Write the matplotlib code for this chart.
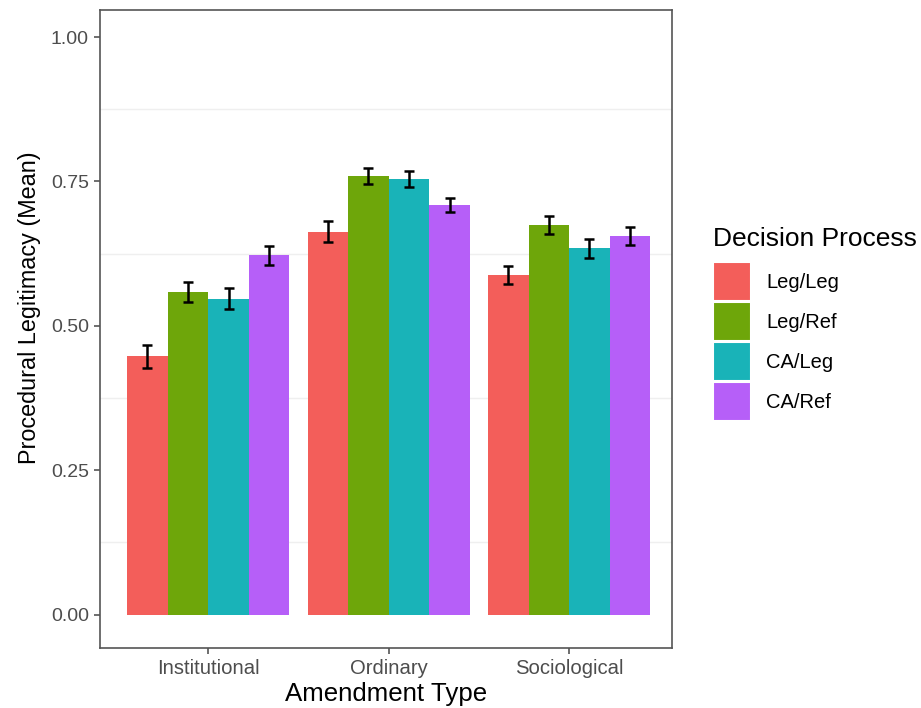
"""Procedural legitimacy by amendment type and decision process (grouped bars, ggplot-like)."""

import numpy as np
import matplotlib.pyplot as plt
from matplotlib.patches import Patch

plt.rcParams["font.family"] = ["Liberation Sans", "DejaVu Sans"]

amendment_types = ["Institutional", "Ordinary", "Sociological"]
processes = ["Leg/Leg", "Leg/Ref", "CA/Leg", "CA/Ref"]
colors = ["#F35E5A", "#6EA60A", "#19B3B8", "#B65FF8"]

# mean legitimacy, one list per decision process (Institutional, Ordinary, Sociological)
means = {
    "Leg/Leg": [0.447, 0.663, 0.588],
    "Leg/Ref": [0.559, 0.759, 0.675],
    "CA/Leg": [0.547, 0.755, 0.634],
    "CA/Ref": [0.622, 0.709, 0.656],
}
errors = {
    "Leg/Leg": [0.020, 0.018, 0.015],
    "Leg/Ref": [0.017, 0.014, 0.016],
    "CA/Leg": [0.018, 0.014, 0.016],
    "CA/Ref": [0.016, 0.012, 0.016],
}

fig = plt.figure(figsize=(9.21, 7.08), dpi=100)
ax = fig.add_axes([100 / 921, 60 / 708, 572 / 921, 638 / 708])

x = np.arange(1, len(amendment_types) + 1)
width = 0.9 / len(processes)

for i, (proc, col) in enumerate(zip(processes, colors)):
    pos = x - 0.45 + width * (i + 0.5)
    ax.bar(pos, means[proc], width=width, color=col, zorder=2)
    ax.errorbar(pos, means[proc], yerr=errors[proc], fmt="none", ecolor="black",
                elinewidth=1.8, capsize=3.8, capthick=1.8, zorder=3)

ax.set_xlim(0.4, 3.57)
ax.set_ylim(-0.058, 1.047)
ax.set_xticks(x)
ax.set_xticklabels(amendment_types)
ax.set_yticks([0, 0.25, 0.5, 0.75, 1.0])
ax.set_yticklabels(["0.00", "0.25", "0.50", "0.75", "1.00"])

# only the minor horizontal grid lines show in the original
for yv in [0.125, 0.375, 0.625, 0.875]:
    ax.axhline(yv, color="#EFEFEF", linewidth=1.0, zorder=0)

for sp in ax.spines.values():
    sp.set_color("#555555")
    sp.set_linewidth(1.2)
ax.tick_params(axis="both", colors="#555555", length=4, width=1.2,
               labelsize=14, labelcolor="#4D4D4D", pad=4)
ax.tick_params(axis="x", labelsize=14.6)

ax.set_xlabel("Amendment Type", fontsize=18.6, color="black", labelpad=3)
ax.set_ylabel("Procedural Legitimacy (Mean)", fontsize=16.8, color="black")
ax.yaxis.set_label_coords(-59 / 572, (648 - 308) / 638)

handles = [Patch(facecolor=c, edgecolor="white", linewidth=1.5, label=p)
           for p, c in zip(processes, colors)]
leg = fig.legend(handles=handles, title="Decision Process", loc="upper left",
                 bbox_to_anchor=(713 / 921, 1 - 227 / 708), frameon=False,
                 fontsize=14.5, title_fontsize=19, handlelength=1.9,
                 handleheight=2.6, labelspacing=0.05, handletextpad=0.75,
                 borderaxespad=0, borderpad=0)
leg._legend_box.align = "left"
leg._legend_box.sep = 8  # more room between title and keys, as in ggplot

plt.savefig("out.png", dpi=100)
